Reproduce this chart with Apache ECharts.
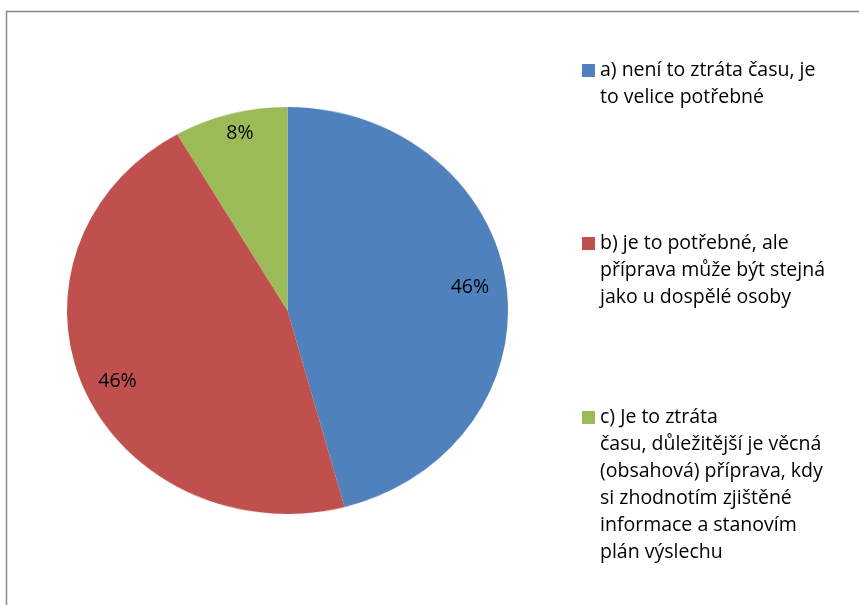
<!DOCTYPE html>
<html>
<head>
<meta charset="utf-8">
<script src="https://cdn.jsdelivr.net/npm/echarts@6/dist/echarts.min.js"></script>
<style>
  html, body { margin: 0; padding: 0; background: #ffffff; }
  #wrap { position: relative; width: 859px; height: 605px; overflow: hidden; }
  #pie { position: absolute; left: 0; top: 0; width: 859px; height: 605px;
         transform: scaleY(0.9229); transform-origin: 0 310.5px; }
  #over { position: absolute; left: 0; top: 0; width: 859px; height: 605px; }
</style>
</head>
<body>
<div id="wrap">
  <div id="pie"></div>
  <div id="over"></div>
</div>
<script>
// ---- data ----
const categories = [
  'a) není to ztráta času, je\nto velice potřebné',
  'b) je to potřebné, ale\npříprava může být stejná\njako u dospělé osoby',
  'c) Je to ztráta\nčasu, důležitější je věcná\n(obsahová) příprava, kdy\nsi zhodnotím zjištěné\ninformace a stanovím\nplán výslechu'
];
const values = [11, 11, 2];

// ---- styles ----
const palette = ['#4F81BD', '#C0504D', '#9BBB59'];
const FONT = 'Open Sans';
const FS = 19.5;
const LH = 27;

const seriesData = categories.map((c, i) => ({ name: c, value: values[i] }));

// Pie (ellipse via vertical CSS scale)
const pieChart = echarts.init(document.getElementById('pie'), null, { renderer: 'canvas' });
pieChart.setOption({
  animation: false,
  color: palette,
  series: [{
    type: 'pie',
    center: [287.5, 310.5],
    radius: [0, 220.5],
    startAngle: 90,
    clockwise: true,
    silent: true,
    label: { show: false },
    labelLine: { show: false },
    itemStyle: { borderWidth: 0 },
    data: seriesData
  }]
});

// Overlay: border, labels, legend
const legendTops = [57, 230, 404];
const overChart = echarts.init(document.getElementById('over'), null, { renderer: 'canvas' });
overChart.setOption({
  animation: false,
  color: palette,
  graphic: [{
    type: 'rect',
    silent: true,
    shape: { x: 6.5, y: 11.5, width: 1000, height: 1000 },
    style: { fill: 'none', stroke: '#888888', lineWidth: 1.5 }
  }],
  legend: categories.map((c, i) => {
    const n = c.split('\n').length;
    const h = 13 + (n - 1) * LH;
    return {
      data: [c],
      orient: 'vertical',
      left: 582,
      top: legendTops[i],
      padding: 0,
      itemWidth: 13,
      itemHeight: h,
      icon: 'path://M0,0H13V13H0Z M13,' + h,
      itemStyle: { opacity: 1 },
      selectedMode: false,
      textStyle: { fontFamily: FONT, fontSize: FS, lineHeight: LH, color: '#000000' }
    };
  }),
  series: [{
    type: 'pie',
    center: [287.5, 311.5],
    radius: [142, 220],
    startAngle: 90,
    clockwise: true,
    silent: true,
    percentPrecision: 0,
    itemStyle: { opacity: 0, borderWidth: 0 },
    label: {
      show: true,
      position: 'inside',
      formatter: '{d}%',
      fontFamily: FONT,
      fontSize: FS,
      color: '#000000',
      opacity: 1
    },
    labelLine: { show: false },
    emphasis: { disabled: true },
    data: seriesData
  }]
});
</script>
</body>
</html>
